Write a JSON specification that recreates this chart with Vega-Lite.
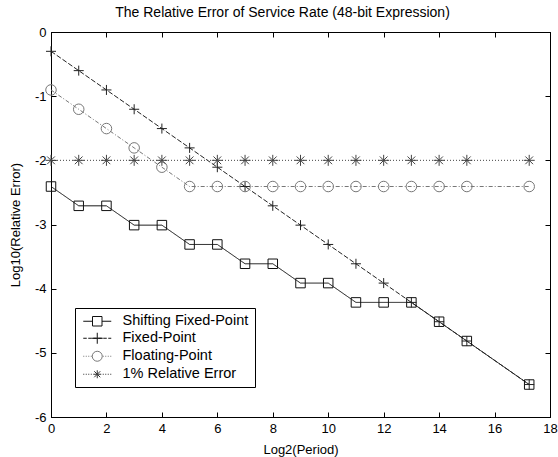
{
  "$schema": "https://vega.github.io/schema/vega-lite/v6.json",
  "width": 499,
  "height": 385,
  "autosize": {"type": "none"},
  "padding": {"left": 51, "top": 32, "right": 8, "bottom": 40},
  "background": "white",
  "title": {"text": "The Relative Error of Service Rate (48-bit Expression)", "fontSize": 14, "font": "Liberation Sans", "fontWeight": "normal", "color": "black", "offset": 6, "dx": -18},
  "config": {
    "font": "Liberation Sans",
    "view": {"stroke": "black", "strokeWidth": 1},
    "axis": {"grid": false, "domainColor": "black", "tickColor": "black", "labelColor": "black", "titleColor": "black", "labelFontSize": 13, "titleFontSize": 13, "titleFontWeight": "normal", "labelFont": "Liberation Sans", "titleFont": "Liberation Sans", "tickSize": -5, "labelPadding": 10, "labelFlush": false},
    "legend": {
      "orient": "none", "legendX": 24, "legendY": 276, "title": null,
      "strokeColor": "black", "fillColor": "white", "padding": 6, "cornerRadius": 0,
      "symbolSize": 100, "symbolStrokeWidth": 1, "symbolOffset": 9, "labelOffset": 18, "symbolOpacity": 1,
      "labelFontSize": 14.5, "labelFont": "Liberation Sans", "labelColor": "black", "rowPadding": 2
    }
  },
  "data": {"values": [
    {"x": 0, "y": -2.408, "s": "Shifting Fixed-Point"},
    {"x": 1, "y": -2.709, "s": "Shifting Fixed-Point"},
    {"x": 2, "y": -2.709, "s": "Shifting Fixed-Point"},
    {"x": 3, "y": -3.01, "s": "Shifting Fixed-Point"},
    {"x": 4, "y": -3.01, "s": "Shifting Fixed-Point"},
    {"x": 5, "y": -3.311, "s": "Shifting Fixed-Point"},
    {"x": 6, "y": -3.311, "s": "Shifting Fixed-Point"},
    {"x": 7, "y": -3.612, "s": "Shifting Fixed-Point"},
    {"x": 8, "y": -3.612, "s": "Shifting Fixed-Point"},
    {"x": 9, "y": -3.913, "s": "Shifting Fixed-Point"},
    {"x": 10, "y": -3.913, "s": "Shifting Fixed-Point"},
    {"x": 11, "y": -4.214, "s": "Shifting Fixed-Point"},
    {"x": 12, "y": -4.214, "s": "Shifting Fixed-Point"},
    {"x": 13, "y": -4.214, "s": "Shifting Fixed-Point"},
    {"x": 14, "y": -4.515, "s": "Shifting Fixed-Point"},
    {"x": 15, "y": -4.816, "s": "Shifting Fixed-Point"},
    {"x": 17.25, "y": -5.494, "s": "Shifting Fixed-Point"},
    {"x": 0, "y": -0.301, "s": "Fixed-Point"},
    {"x": 1, "y": -0.602, "s": "Fixed-Point"},
    {"x": 2, "y": -0.903, "s": "Fixed-Point"},
    {"x": 3, "y": -1.204, "s": "Fixed-Point"},
    {"x": 4, "y": -1.505, "s": "Fixed-Point"},
    {"x": 5, "y": -1.806, "s": "Fixed-Point"},
    {"x": 6, "y": -2.107, "s": "Fixed-Point"},
    {"x": 7, "y": -2.408, "s": "Fixed-Point"},
    {"x": 8, "y": -2.709, "s": "Fixed-Point"},
    {"x": 9, "y": -3.01, "s": "Fixed-Point"},
    {"x": 10, "y": -3.311, "s": "Fixed-Point"},
    {"x": 11, "y": -3.612, "s": "Fixed-Point"},
    {"x": 12, "y": -3.913, "s": "Fixed-Point"},
    {"x": 13, "y": -4.214, "s": "Fixed-Point"},
    {"x": 14, "y": -4.515, "s": "Fixed-Point"},
    {"x": 15, "y": -4.816, "s": "Fixed-Point"},
    {"x": 17.25, "y": -5.494, "s": "Fixed-Point"},
    {"x": 0, "y": -0.903, "s": "Floating-Point"},
    {"x": 1, "y": -1.204, "s": "Floating-Point"},
    {"x": 2, "y": -1.505, "s": "Floating-Point"},
    {"x": 3, "y": -1.806, "s": "Floating-Point"},
    {"x": 4, "y": -2.107, "s": "Floating-Point"},
    {"x": 5, "y": -2.408, "s": "Floating-Point"},
    {"x": 6, "y": -2.408, "s": "Floating-Point"},
    {"x": 7, "y": -2.408, "s": "Floating-Point"},
    {"x": 8, "y": -2.408, "s": "Floating-Point"},
    {"x": 9, "y": -2.408, "s": "Floating-Point"},
    {"x": 10, "y": -2.408, "s": "Floating-Point"},
    {"x": 11, "y": -2.408, "s": "Floating-Point"},
    {"x": 12, "y": -2.408, "s": "Floating-Point"},
    {"x": 13, "y": -2.408, "s": "Floating-Point"},
    {"x": 14, "y": -2.408, "s": "Floating-Point"},
    {"x": 15, "y": -2.408, "s": "Floating-Point"},
    {"x": 17.25, "y": -2.408, "s": "Floating-Point"},
    {"x": 0, "y": -2, "s": "1% Relative Error"},
    {"x": 1, "y": -2, "s": "1% Relative Error"},
    {"x": 2, "y": -2, "s": "1% Relative Error"},
    {"x": 3, "y": -2, "s": "1% Relative Error"},
    {"x": 4, "y": -2, "s": "1% Relative Error"},
    {"x": 5, "y": -2, "s": "1% Relative Error"},
    {"x": 6, "y": -2, "s": "1% Relative Error"},
    {"x": 7, "y": -2, "s": "1% Relative Error"},
    {"x": 8, "y": -2, "s": "1% Relative Error"},
    {"x": 9, "y": -2, "s": "1% Relative Error"},
    {"x": 10, "y": -2, "s": "1% Relative Error"},
    {"x": 11, "y": -2, "s": "1% Relative Error"},
    {"x": 12, "y": -2, "s": "1% Relative Error"},
    {"x": 13, "y": -2, "s": "1% Relative Error"},
    {"x": 14, "y": -2, "s": "1% Relative Error"},
    {"x": 15, "y": -2, "s": "1% Relative Error"},
    {"x": 17.25, "y": -2, "s": "1% Relative Error"}
  ]},
  "layer": [
    {
      "mark": {"type": "line", "strokeWidth": 1},
      "encoding": {
        "x": {"field": "x", "type": "quantitative", "scale": {"domain": [0, 18], "nice": false}, "axis": {"orient": "bottom", "values": [0, 2, 4, 6, 8, 10, 12, 14, 16, 18], "title": "Log2(Period)", "labelExpr": "toString(datum.value)", "titlePadding": 8}},
        "y": {"field": "y", "type": "quantitative", "scale": {"domain": [-6, 0], "nice": false}, "axis": {"orient": "left", "values": [-6, -5, -4, -3, -2, -1, 0], "title": "Log10(Relative Error)", "labelExpr": "toString(datum.value)", "titlePadding": 12}},
        "color": {"field": "s", "type": "nominal", "scale": {"domain": ["Shifting Fixed-Point", "Fixed-Point", "Floating-Point", "1% Relative Error"], "range": ["#111111", "#222222", "#777777", "#444444"]}, "legend": null},
        "strokeDash": {"field": "s", "type": "nominal", "scale": {"domain": ["Shifting Fixed-Point", "Fixed-Point", "Floating-Point", "1% Relative Error"], "range": [[1, 0], [5, 2], [4, 2, 1, 2], [1, 2]]}, "legend": null}
      }
    },
    {
      "mark": {"type": "point", "filled": false, "strokeWidth": 1, "opacity": 1},
      "encoding": {
        "x": {"field": "x", "type": "quantitative", "axis": {"orient": "top", "values": [0, 2, 4, 6, 8, 10, 12, 14, 16, 18], "labels": false, "title": null}},
        "y": {"field": "y", "type": "quantitative", "axis": {"orient": "right", "values": [-6, -5, -4, -3, -2, -1, 0], "labels": false, "title": null}},
        "color": {"field": "s", "type": "nominal", "scale": {"domain": ["Shifting Fixed-Point", "Fixed-Point", "Floating-Point", "1% Relative Error"], "range": ["#111111", "#222222", "#777777", "#444444"]}, "legend": null},
        "size": {"field": "s", "type": "nominal", "scale": {"domain": ["Shifting Fixed-Point", "Fixed-Point", "Floating-Point", "1% Relative Error"], "range": [90, 121, 90, 49]}, "legend": null},
        "shape": {"field": "s", "type": "nominal", "scale": {"domain": ["Shifting Fixed-Point", "Fixed-Point", "Floating-Point", "1% Relative Error"], "range": ["square", "M-1,0L1,0M0,-1L0,1", "circle", "M-1,0L1,0M0,-1L0,1M-0.7,-0.7L0.7,0.7M-0.7,0.7L0.7,-0.7"]}, "legend": null}
      }
    },
    {
      "mark": {"type": "point", "filled": false, "strokeWidth": 1, "opacity": 0, "color": "#111111"},
      "encoding": {
        "x": {"field": "x", "type": "quantitative", "axis": null},
        "y": {"field": "y", "type": "quantitative", "axis": null},
        "color": {"field": "s", "type": "nominal", "title": null, "scale": {"domain": ["Shifting Fixed-Point", "Fixed-Point", "Floating-Point", "1% Relative Error"], "range": ["#111111", "#111111", "#777777", "#333333"]}},
        "shape": {"field": "s", "type": "nominal", "title": null, "scale": {"domain": ["Shifting Fixed-Point", "Fixed-Point", "Floating-Point", "1% Relative Error"], "range": [
          "M-2.8,0L-0.95,0M0.95,0L2.8,0M-0.95,-0.95L0.95,-0.95L0.95,0.95L-0.95,0.95Z",
          "M-2.8,0L-2.1,0M-1.8,0L-1.1,0M-0.8,0L-0.1,0M0.2,0L0.9,0M1.2,0L1.9,0M2.2,0L2.8,0M-1.1,0L1.1,0M0,-1.1L0,1.1",
          "M-2.8,0L-2.6,0M-2.3,0L-2.1,0M-1.8,0L-1.6,0M-1.3,0L-1.1,0M1.1,0L1.3,0M1.6,0L1.8,0M2.1,0L2.3,0M2.6,0L2.8,0M-1,0A1,1,0,1,0,1,0A1,1,0,1,0,-1,0",
          "M-2.8,0L-2.6,0M-2.3,0L-2.1,0M-1.8,0L-1.6,0M-1.3,0L-1.1,0M1.1,0L1.3,0M1.6,0L1.8,0M2.1,0L2.3,0M2.6,0L2.8,0M-0.8,0L0.8,0M0,-0.8L0,0.8M-0.6,-0.6L0.6,0.6M-0.6,0.6L0.6,-0.6"
        ]}}
      }
    }
  ],
  "resolve": {
    "axis": {"x": "independent", "y": "independent"},
    "scale": {"color": "independent", "shape": "independent"},
    "legend": {"color": "independent", "shape": "independent"}
  }
}
